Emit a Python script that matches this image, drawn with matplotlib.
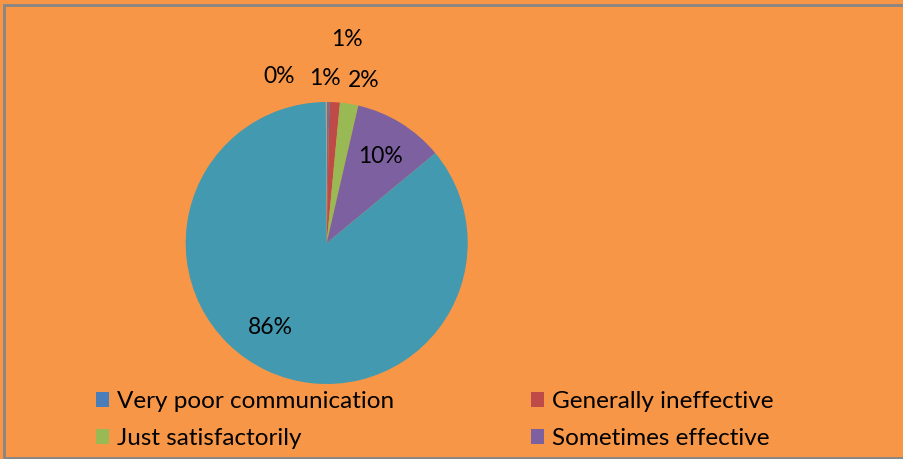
import matplotlib.pyplot as plt
from matplotlib.patches import Rectangle

# slices, clockwise from 12 o'clock
categories = ['Very poor communication', 'Generally ineffective', 'Just satisfactorily',
              'Sometimes effective', 'Very effective', 'Other']
values = [0.3, 1.2, 2.1, 10.4, 85.9, 0.1]
pct_labels = ['0%', '1%', '2%', '10%', '86%', '1%']
colors = ['#4A7EBB', '#BE4B48', '#98B954', '#7D60A0', '#4399B0', '#F79646']

# label offsets in pie radius units (best-fit placement from the original)
label_pos = [(-0.34, 1.18), (-0.01, 1.17), (0.26, 1.15), (0.38, 0.61), (-0.40, -0.60), (0.14, 1.44)]

bg = '#F79646'
plt.rcParams['font.family'] = ['Lato', 'DejaVu Sans']

W, H = 904, 459
fig = plt.figure(figsize=(W / 100, H / 100), dpi=100, facecolor=bg)

# pie centre at (327, 243) px, radius 141 px
cx, cy, r, half = 326.7, 243, 141, 200
ax = fig.add_axes([(cx - half) / W, (H - cy - half) / H, 2 * half / W, 2 * half / H])
ax.set_facecolor('none')
wedges, _ = ax.pie(values, colors=colors, startangle=90, counterclock=False, radius=1,
                   wedgeprops=dict(linewidth=0))
ax.set_xlim(-half / r, half / r)
ax.set_ylim(-half / r, half / r)
ax.set_aspect('auto')
ax.axis('off')

for txt, (x, y) in zip(pct_labels, label_pos):
    ax.text(x, y, txt, ha='center', va='center', fontsize=16.5, color='black', clip_on=False)

# legend fills row by row in the original
order = [0, 2, 1, 3]
fig.legend([wedges[i] for i in order], [categories[i] for i in order], ncol=2, loc='upper left',
           bbox_to_anchor=(79 / W, 1 - 374 / H), frameon=False, fontsize=17.5,
           handlelength=0.55, handleheight=0.55, handletextpad=0.3,
           columnspacing=5.65, labelspacing=0.66, borderpad=0.2)

# grey chart border (right edge falls outside the picture)
fig.patches.append(Rectangle((4.5 / W, 1.5 / H), 1.05, 1 - 6.5 / H, transform=fig.transFigure,
                             fill=False, edgecolor='#868686', linewidth=2))

fig.savefig('out.png', dpi=100, facecolor=bg)
